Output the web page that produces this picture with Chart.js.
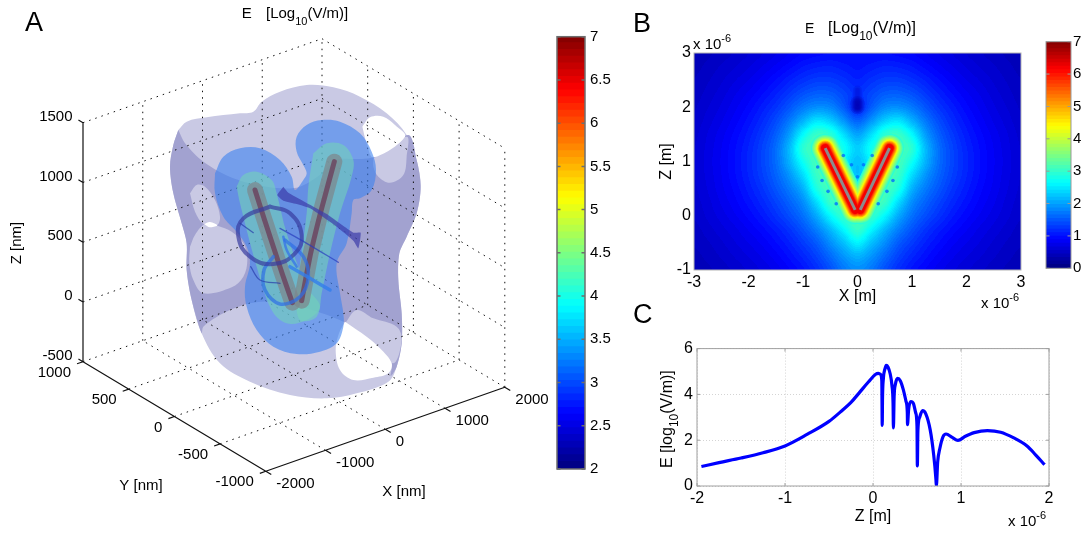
<!doctype html>
<html><head><meta charset="utf-8">
<style>html,body{margin:0;background:#fff;overflow:hidden}canvas{position:absolute}</style>
<script src="https://cdn.jsdelivr.net/npm/chart.js@4"></script>
</head><body>
<canvas id="panelA"></canvas><canvas id="barA"></canvas>
<canvas id="panelB"></canvas><canvas id="barB"></canvas>
<canvas id="panelC"></canvas>
<script>
/* ---------- Panel A: axis ticks (nm) ---------- */
const xTicksA=[-2000,-1000,0,1000,2000];
const yTicksA=[-1000,-500,0,500,1000];
const zTicksA=[-500,0,500,1000,1500];
/* Panel A surfaces: outlines read in the projected view plane */
const outerShell=[[115,150],[140,125],[200,112],[300,100],[340,95],[365,65],[420,35],[500,15],[580,22],[660,50],[740,100],[800,165],[830,240],[842,320],[830,400],[800,470],[778,520],[775,600],[785,700],[785,790],[770,860],[745,905],[650,940],[560,955],[450,945],[330,905],[240,850],[185,760],[155,660],[140,570],[140,490],[125,430],[100,340],[90,260],[100,195],[115,150]];
const sideBand=[[115,150],[135,190],[190,245],[280,295],[380,320],[470,323],[530,292],[590,240],[640,237],[700,232],[805,165],[830,240],[842,320],[830,400],[800,470],[778,520],[775,600],[785,700],[785,790],[770,860],[752,888],[755,850],[720,805],[680,770],[610,725],[500,685],[420,665],[330,670],[250,700],[190,740],[185,760],[155,660],[140,570],[140,490],[125,430],[100,340],[90,260],[100,195],[115,150]];
const patchUpperLeft=[[150,340],[170,315],[195,320],[225,360],[240,410],[232,435],[210,428],[190,432],[165,395],[150,340]];
const patchLowerLeft=[[150,500],[165,465],[195,432],[232,437],[275,455],[310,490],[322,540],[310,590],[275,622],[190,640],[160,600],[148,550],[150,500]];
const patchUpperRight=[[700,235],[800,170],[800,230],[790,285],[750,308],[715,290],[700,260],[700,235]];
const patchLowerRight=[[615,730],[650,690],[700,715],[770,740],[785,780],[760,850],[700,790],[615,730]];
const holeLowerRight=[[615,725],[680,770],[720,805],[755,850],[745,880],[700,893],[640,900],[600,870],[587,810],[597,760],[615,725]];
const holeUpperRight=[[667,140],[690,112],[730,110],[765,135],[795,170],[700,232],[680,190],[667,140]];
const holeSmallLeft=[[192,432],[210,426],[232,436],[210,442],[192,432]];
const blueBlob=[[225,280],[250,230],[300,205],[360,205],[420,240],[455,290],[465,330],[490,300],[500,280],[490,255],[470,215],[470,170],[500,135],[545,120],[600,125],[660,160],[695,215],[708,270],[695,330],[660,355],[640,360],[635,400],[620,490],[590,550],[600,640],[610,700],[610,740],[590,790],[540,815],[470,822],[400,800],[350,750],[320,680],[315,620],[330,550],[320,500],[290,455],[250,410],[225,340],[225,280]];
const tealLeft=[[290,320],[310,285],[350,275],[395,300],[410,340],[440,460],[500,620],[540,680],[500,720],[440,730],[395,690],[350,560],[300,370],[290,320]];
const tealRight=[[520,220],[560,190],[610,195],[640,240],[635,290],[600,400],[570,520],[545,640],[530,710],[480,720],[470,650],[500,400],[505,320],[520,220]];
const armLeft3D=[[345,330],[372,415],[400,500],[428,585],[457,668]];
const armRight3D=[[583,245],[545,385],[512,520],[485,662]];
const ringDark=[[390,380],[450,400],[485,465],[465,520],[400,552],[330,530],[295,470],[310,415],[390,380]];
const ringBlue=[[435,480],[490,530],[505,590],[480,650],[420,672],[375,630],[372,570],[400,530]];
const ribbon=[[430,320],[445,338],[560,402],[640,458],[662,458],[655,505],[640,482],[590,440],[510,385],[470,372],[430,362],[412,345],[430,320]];
const streakA=[[420,445],[500,490],[595,547]];
const streakB=[[450,560],[510,595],[570,630]];
const streakC=[[332,560],[360,600],[420,610]];
const streakD=[[300,430],[340,458]];
const streakE=[[430,470],[440,510],[470,560]];
/* ---------- Panel B: field values log10(V/m), x>=0 half (plot is mirror-symmetric) ---------- */
const fieldX=[0,.25,.5,.75,1,1.25,1.5,1.75,2,2.25,2.5,2.75,3];
const fieldZ=[3,2.75,2.5,2.25,2,1.75,1.5,1.25,1,.75,.5,.25,0,-.25,-.5,-.75,-1];
const fieldE=[
[.95,.95,.95,.92,.88,.8,.72,.65,.58,.52,.47,.42,.38],
[1.0,1.05,1.1,1.08,1.02,.92,.82,.73,.65,.58,.52,.46,.41],
[1.1,1.2,1.28,1.28,1.2,1.08,.95,.83,.73,.65,.57,.5,.44],
[1.2,1.35,1.5,1.52,1.42,1.25,1.08,.94,.82,.72,.62,.54,.47],
[1.1,1.5,1.8,1.85,1.7,1.45,1.22,1.05,.9,.78,.67,.58,.5],
[1.55,1.9,2.3,2.45,2.1,1.7,1.38,1.15,.98,.84,.72,.62,.53],
[2.0,2.4,2.9,3.0,2.6,1.95,1.52,1.25,1.05,.9,.77,.66,.56],
[2.3,2.7,3.0,3.1,2.9,2.15,1.62,1.32,1.1,.94,.8,.68,.58],
[2.2,2.6,3.0,3.1,2.7,2.1,1.62,1.33,1.12,.95,.81,.69,.59],
[2.2,2.7,3.1,3.0,2.4,1.9,1.55,1.3,1.1,.94,.8,.68,.58],
[2.5,3.0,3.1,2.8,2.1,1.72,1.45,1.22,1.05,.9,.78,.66,.57],
[2.9,3.1,3.0,2.4,1.85,1.55,1.32,1.13,.98,.85,.74,.63,.55],
[3.1,3.0,2.6,2.05,1.65,1.4,1.2,1.03,.9,.79,.69,.6,.52],
[3.0,2.6,2.15,1.75,1.45,1.22,1.05,.92,.81,.71,.63,.55,.48],
[2.55,2.2,1.85,1.5,1.27,1.08,.94,.82,.73,.65,.57,.5,.45],
[2.1,1.9,1.6,1.32,1.12,.97,.84,.74,.66,.59,.52,.46,.41],
[1.85,1.7,1.42,1.18,1,.87,.76,.67,.6,.53,.47,.42,.38]];
const armLeftB=[[-.593,1.245],[-.043,.11]];
const armRightB=[[.587,1.245],[.05,.11]];
const armGlowLevels=[2.9,3.2,3.5,3.8,4.1,4.4,4.7,5,5.3,5.6,5.9,6.2];
const dipB=[[0,2],[0,2.08]];
const dipTailB=[[0,2],[0,2.32]];
const dotsB=[[0,.72],[-.11,.94],[.11,.94],[-.26,1.11],[.27,1.11],[-.73,.9],[.73,.9],[-.65,.65],[.65,.65],[-.54,.45],[.54,.45],[-.39,.22],[.38,.22]];
/* ---------- Panel C: E along Z ---------- */
const curveZ=[-1.95,-1.75,-1.5,-1.25,-1,-.75,-.5,-.35,-.25,-.15,-.05,.03,.06,.085,.1,.105,.108,.118,.135,.15,.17,.195,.215,.228,.232,.24,.255,.28,.31,.345,.375,.39,.392,.405,.43,.46,.485,.5,.504,.51,.53,.563,.6,.65,.69,.715,.72,.735,.76,.795,.83,.9,.965,1.05,1.15,1.3,1.45,1.6,1.75,1.85,1.95];
const curveE=[.85,1.02,1.22,1.45,1.75,2.25,2.82,3.3,3.65,4.1,4.55,4.88,4.92,4.88,4.6,2.65,3.8,4.7,5.1,5.27,5.2,4.9,4.4,3.6,2.54,3.9,4.45,4.7,4.6,4.2,3.7,3.2,2.68,3.35,3.69,3.6,3.2,2.6,.88,2.4,3.0,3.29,3.15,2.45,1.35,.3,0,1.05,1.65,2.15,2.27,2.12,1.99,2.17,2.33,2.42,2.35,2.1,1.75,1.35,.93];

/* ---------- helpers ---------- */
Chart.defaults.font.family='"Liberation Sans",Arial,sans-serif';
Chart.defaults.font.size=15;
Chart.defaults.color='#000';
Chart.defaults.animation=false;
const clamp=v=>Math.max(0,Math.min(1,v));
function jet(t,a){const r=clamp(1.5-Math.abs(4*t-3)),g=clamp(1.5-Math.abs(4*t-2)),b=clamp(1.5-Math.abs(4*t-1));
  return a===undefined?[r*255|0,g*255|0,b*255|0]:`rgba(${r*255|0},${g*255|0},${b*255|0},${a})`;}
function place(id,l,t,w,h){const c=document.getElementById(id);c.width=w;c.height=h;c.style.left=l+'px';c.style.top=t+'px';c.style.width=w+'px';c.style.height=h+'px';return c;}
const pts=a=>a.map(p=>({x:p[0],y:p[1]}));
function text(ctx,s,x,y,font,o={}){ctx.save();ctx.font=font;ctx.fillStyle='#000';ctx.textAlign=o.align||'left';ctx.textBaseline=o.base||'alphabetic';ctx.translate(x,y);if(o.rot)ctx.rotate(o.rot);ctx.fillText(s,0,0);ctx.restore();}
const FF='"Liberation Sans",Arial,sans-serif';
const f=s=>s+'px '+FF;
function runs(ctx,x,y,list,rot){ctx.save();ctx.translate(x,y);if(rot)ctx.rotate(rot);let a=0;for(const r of list){ctx.font=f(r.s);ctx.fillStyle='#000';ctx.textAlign='left';ctx.textBaseline='alphabetic';if(r.at!==undefined)a=r.at;ctx.fillText(r.t,a,r.dy||0);a+=ctx.measureText(r.t).width;}ctx.restore();}
function framePlugin(color,lw,tickLen){return{id:'frame',afterDatasetsDraw(ch){const a=ch.chartArea,c=ch.ctx;c.save();c.strokeStyle=color;c.lineWidth=lw;c.strokeRect(a.left,a.top,a.right-a.left,a.bottom-a.top);
  if(tickLen){c.beginPath();const {x,y}=ch.scales;
    y.ticks.forEach(t=>{const p=y.getPixelForValue(t.value);c.moveTo(a.left,p);c.lineTo(a.left+tickLen,p);c.moveTo(a.right,p);c.lineTo(a.right-tickLen,p);});
    if(x&&x.type==='linear')x.ticks.forEach(t=>{const p=x.getPixelForValue(t.value);c.moveTo(p,a.bottom);c.lineTo(p,a.bottom-tickLen);c.moveTo(p,a.top);c.lineTo(p,a.top+tickLen);});
    c.stroke();}
  c.restore();}};}

/* ---------- Panel A ---------- */
function project(x,y,z){const px=83+(1000-y)*.0914+(x+2000)*.05975,py=361.7+(1000-y)*.0548-(x+2000)*.021-(z+500)*.1195;return{x:(px-140)*3,y:(py-80)*3};}
const GAP={x:NaN,y:NaN};
const gridSeg=[];const seg=(a,b)=>{gridSeg.push(project(...a),project(...b),GAP);};
xTicksA.slice(1).forEach(x=>{seg([x,1000,-500],[x,1000,1500]);seg([x,-1000,-500],[x,1000,-500]);});
yTicksA.forEach(y=>{if(y<1000)seg([2000,y,-500],[2000,y,1500]);if(y>-1000)seg([-2000,y,-500],[2000,y,-500]);});
zTicksA.slice(1).forEach(z=>{seg([-2000,1000,z],[2000,1000,z]);seg([2000,1000,z],[2000,-1000,z]);});
const axisSeg=[];const aseg=(a,b)=>{axisSeg.push(project(...a),project(...b),GAP);};
aseg([-2000,1000,-500],[-2000,1000,1500]);aseg([-2000,1000,-500],[-2000,-1000,-500]);aseg([-2000,-1000,-500],[2000,-1000,-500]);
zTicksA.forEach(z=>aseg([-2000,1000,z],[-2000,1050,z]));
yTicksA.forEach(y=>aseg([-2000,y,-500],[-2100,y,-500]));
xTicksA.forEach(x=>aseg([x,-1000,-500],[x,-1060,-500]));
const L={light:'#c9c9e4',dark:'#a2a2d0'};
function shape(p,color,tension=.35){return{data:pts(p),showLine:true,fill:'shape',backgroundColor:color,borderWidth:0,borderColor:'transparent',pointRadius:0,tension};}
function stroke(p,color,w,tension=.35,extra={}){return{data:pts(p),showLine:true,fill:false,borderColor:color,borderWidth:w,pointRadius:0,tension,borderCapStyle:'round',borderJoinStyle:'round',...extra};}
const layersA=[
 shape(outerShell,L.light),shape(sideBand,L.dark,.3),
 shape(patchUpperLeft,L.light),shape(patchLowerLeft,L.light),shape(patchUpperRight,L.light),shape(patchLowerRight,L.light),
 shape(holeLowerRight,'#fff'),shape(holeUpperRight,'#fff'),shape(holeSmallLeft,'#fff'),
 {data:gridSeg,showLine:true,fill:false,borderColor:'#111',borderWidth:1,borderDash:[1.5,5],pointRadius:0,spanGaps:false},
 {data:axisSeg,showLine:true,fill:false,borderColor:'#111',borderWidth:1.2,pointRadius:0,spanGaps:false},
 shape(blueBlob,'rgba(60,130,240,.6)'),
 shape(tealLeft,'rgba(115,210,185,.6)'),shape(tealRight,'rgba(115,210,185,.6)'),
 stroke(armLeft3D,'rgba(125,135,140,.72)',16,0),stroke(armRight3D,'rgba(125,135,140,.72)',16,0),
 stroke(armLeft3D,'rgba(105,55,85,.72)',5,0),stroke(armRight3D,'rgba(105,55,85,.72)',5,.2),
 shape(ribbon,'rgba(60,60,170,.7)',.15),
 stroke(ringBlue,'rgba(45,110,230,.7)',3.5),stroke(ringDark,'rgba(55,60,160,.7)',4,.45),
 stroke(streakA,'rgba(40,60,190,.7)',1.3),stroke(streakB,'rgba(50,125,235,.8)',3.5),stroke(streakC,'rgba(40,60,170,.7)',1.3),stroke(streakD,'rgba(40,60,170,.7)',1.3),stroke(streakE,'rgba(50,110,235,.7)',2.5)
];
layersA.forEach((d,i)=>d.order=layersA.length-i);
const labelsA={id:'labelsA',afterDraw(ch){const c=ch.ctx,sx=ch.scales.x,sy=ch.scales.y;
  const P=(x,y,z)=>{const v=project(x,y,z);return[sx.getPixelForValue(v.x),sy.getPixelForValue(v.y)];};
  zTicksA.forEach(z=>{const[p,q]=P(-2000,1000,z);text(c,String(z),p-10.5,q-6,f(15),{align:'right',base:'middle'});});
  yTicksA.forEach(y=>{const[p,q]=P(-2000,y,-500);text(c,String(y),p-12,q+11,f(15),{align:'right',base:'middle'});});
  xTicksA.forEach(x=>{const[p,q]=P(x,-1000,-500);text(c,String(x),p+10.5,q+13,f(15),{base:'middle'});});
  text(c,'Z [nm]',17,243,f(15),{align:'center',base:'middle',rot:-Math.PI/2});
  text(c,'Y [nm]',141,486,f(15),{align:'center',base:'middle'});
  text(c,'X [nm]',404,492,f(15),{align:'center',base:'middle'});
  text(c,'A',25,24,f(27),{base:'middle'});text(c,'B',633,25,f(27),{base:'middle'});text(c,'C',633,316,f(27),{base:'middle'});
  runs(c,241.7,17.5,[{t:'E',s:15},{t:'[Log',s:15,at:24.3},{t:'10',s:11,dy:7},{t:'(V/m)]',s:15}]);
}};
new Chart(place('panelA',0,0,1083,533),{type:'scatter',data:{datasets:layersA},plugins:[labelsA],options:{responsive:false,devicePixelRatio:1,
  plugins:{legend:{display:false},tooltip:{enabled:false}},
  scales:{x:{type:'linear',min:-420,max:2829,display:false},y:{type:'linear',min:-240,max:1359,reverse:true,display:false}}}});

/* ---------- Colorbars ---------- */
function colorbar(id,rect,area,min,max,step,cfg){
  const datasets=[];const n=64;
  for(let i=0;i<n;i++){const lo=min+(max-min)*i/n,hi=min+(max-min)*(i+1)/n;
    datasets.push({data:[[lo,Math.min(max,hi+.01)]],backgroundColor:jet((i+.5)/n,1),borderWidth:0,barPercentage:1,categoryPercentage:1,grouped:false});}
  new Chart(place(id,...rect),{type:'bar',data:{labels:['E'],datasets},plugins:[framePlugin(cfg.frame,cfg.lw,3.5)],options:{responsive:false,devicePixelRatio:1,
    layout:{padding:{left:area[0]-rect[0],top:area[1]-rect[1],bottom:rect[1]+rect[3]-area[3],right:0}},
    plugins:{legend:{display:false},tooltip:{enabled:false}},
    scales:{x:{display:false},y:{type:'linear',position:'right',min,max,afterFit:s=>{s.width=rect[0]+rect[2]-area[2];},
      border:{display:false},grid:{display:false,drawTicks:false},
      ticks:{stepSize:step,padding:cfg.pad,font:{size:cfg.size},autoSkip:false,callback:v=>String(v)}}}}});
}
colorbar('barA',[550,20,70,470],[557,36.7,585,469],2,7,.5,{frame:'#6e6e6e',lw:1.5,pad:5,size:15});
colorbar('barB',[1040,30,43,250],[1046,41.7,1071,268.3],0,7,1,{frame:'#9a9a9a',lw:1,pad:2,size:15});

/* ---------- Panel B ---------- */
function cr(a,b,c,d,t){return b+.5*t*(c-a+t*(2*a-5*b+4*c-d+t*(3*(b-c)+d-a)));}
function fieldAt(x,z){const ax=Math.min(2.9999,Math.abs(x)),iz=Math.max(0,Math.min(15.9999,(3-z)/.25)),ix=ax/.25;
  const i=Math.floor(ix),j=Math.floor(iz),u=ix-i,v=iz-j;
  const col=k=>{const r=fieldE[Math.max(0,Math.min(16,k))];const g=q=>r[q<0?-q:Math.min(12,q)];return cr(g(i-1),g(i),g(i+1),g(i+2),u);};
  return cr(col(j-1),col(j),col(j+1),col(j+2),v);}
const heatPlugin={id:'heat',beforeDatasetsDraw(ch){const a=ch.chartArea,sx=ch.scales.x,sy=ch.scales.y;
  const w=Math.round(a.right-a.left),h=Math.round(a.bottom-a.top);const off=document.createElement('canvas');off.width=w;off.height=h;const oc=off.getContext('2d');const im=oc.createImageData(w,h);
  for(let r=0;r<h;r++)for(let q=0;q<w;q++){const v=fieldAt(sx.getValueForPixel(a.left+q+.5),sy.getValueForPixel(a.top+r+.5));
    const lev=(Math.floor(Math.max(0,v)/7*96)+.5)/96;const col=jet(lev);const k=4*(r*w+q);im.data[k]=col[0];im.data[k+1]=col[1];im.data[k+2]=col[2];im.data[k+3]=255;}
  oc.putImageData(im,0,0);ch.ctx.drawImage(off,a.left,a.top);}};
const labelsB={id:'labelsB',afterDraw(ch){const c=ch.ctx,ox=ch.canvas.offsetLeft,oy=ch.canvas.offsetTop;
  runs(c,805-ox,33.3-oy,[{t:'E',s:14},{t:'[Log',s:16,at:23},{t:'10',s:12,dy:7},{t:'(V/m)]',s:16}]);
  runs(c,693-ox,49-oy,[{t:'x 10',s:15},{t:'-6',s:11,dy:-7}]);
  runs(c,981-ox,308-oy,[{t:'x 10',s:15},{t:'-6',s:11,dy:-7}]);
}};
const armDs=[];
const armWidths=[29,26.5,24,21.5,19,17,15.5,14,12.5,11,9.5,8];
[9,6,4].forEach(w=>armDs.push(stroke(dipTailB,'rgba(0,0,190,.16)',w,0)));
[14,11,8,6,4].forEach(w=>armDs.push(stroke(dipB,'rgba(0,0,170,.22)',w,0)));
armGlowLevels.forEach((lv,i)=>{[armLeftB,armRightB].forEach(arm=>armDs.push(stroke(arm,jet(lv/7,1),armWidths[i],0)));});
[armLeftB,armRightB].forEach(arm=>armDs.push(stroke(arm,'#8c8c8c',3,0,{borderCapStyle:'butt'})));
const fieldPoints=[];fieldZ.forEach((z,j)=>fieldX.forEach((x,i)=>fieldPoints.push({x,y:z,e:fieldE[j][i]})));
const dsB=[{label:'E',data:fieldPoints,pointRadius:0,showLine:false},...armDs,
 {data:pts(dotsB),showLine:false,pointRadius:1.8,backgroundColor:'rgba(0,110,255,.8)',borderWidth:0}];
dsB.forEach((d,i)=>d.order=dsB.length-i);
const rB=[657,15,383,297];
new Chart(place('panelB',...rB),{type:'scatter',data:{datasets:dsB},plugins:[heatPlugin,framePlugin('#b4b4b4',1,0),labelsB],options:{responsive:false,devicePixelRatio:1,
  layout:{padding:{top:53-15,right:1040-1021,left:0,bottom:rB[1]+rB[3]-270-36}},
  plugins:{legend:{display:false},tooltip:{enabled:false}},
  scales:{x:{type:'linear',min:-3,max:3,afterFit:s=>{s.height=36;},border:{display:false},grid:{display:false,drawTicks:false},
     ticks:{stepSize:1,padding:3,font:{size:16},autoSkip:false,maxRotation:0},title:{display:true,text:'X [m]',font:{size:16},padding:0}},
    y:{type:'linear',min:-1,max:3,afterFit:s=>{s.width=37;},border:{display:false},grid:{display:false,drawTicks:false},
     ticks:{stepSize:1,padding:3,font:{size:16},autoSkip:false},title:{display:true,text:'Z [m]',font:{size:16},padding:0}}}}});

/* ---------- Panel C ---------- */
const rC=[655,335,428,198];
const labelsC={id:'labelsC',afterDraw(ch){const c=ch.ctx,ox=ch.canvas.offsetLeft,oy=ch.canvas.offsetTop;
  runs(c,672-ox,468-oy,[{t:'E [log',s:16},{t:'10',s:12,dy:6},{t:'(V/m)]',s:16}],-Math.PI/2);
  runs(c,1008-ox,526-oy,[{t:'x 10',s:15},{t:'-6',s:11,dy:-7}]);
}};
new Chart(place('panelC',...rC),{type:'scatter',data:{datasets:[{label:'E',data:curveZ.map((z,i)=>({x:z,y:curveE[i]})),showLine:true,borderColor:'#0000ff',borderWidth:3.2,pointRadius:0,cubicInterpolationMode:'monotone',borderJoinStyle:'round',borderCapStyle:'butt',fill:false}]},
  plugins:[framePlugin('#a0a0a0',1,3),labelsC],options:{responsive:false,devicePixelRatio:1,
  layout:{padding:{top:347-335,right:1083-1049,left:0,bottom:rC[1]+rC[3]-486-40.6}},
  plugins:{legend:{display:false},tooltip:{enabled:false}},
  scales:{x:{type:'linear',min:-2,max:2,afterFit:s=>{s.height=40.6;},border:{display:false,dash:[1,2]},grid:{color:'#d4d4d4',drawTicks:false},
     ticks:{stepSize:1,padding:3,font:{size:16},autoSkip:false,maxRotation:0},title:{display:true,text:'Z [m]',font:{size:16},padding:0}},
    y:{type:'linear',min:0,max:6,afterFit:s=>{s.width=42;},border:{display:false,dash:[1,2]},grid:{color:'#d4d4d4',drawTicks:false},
     ticks:{stepSize:2,padding:4,font:{size:16},autoSkip:false}}}}});
</script></body></html>
